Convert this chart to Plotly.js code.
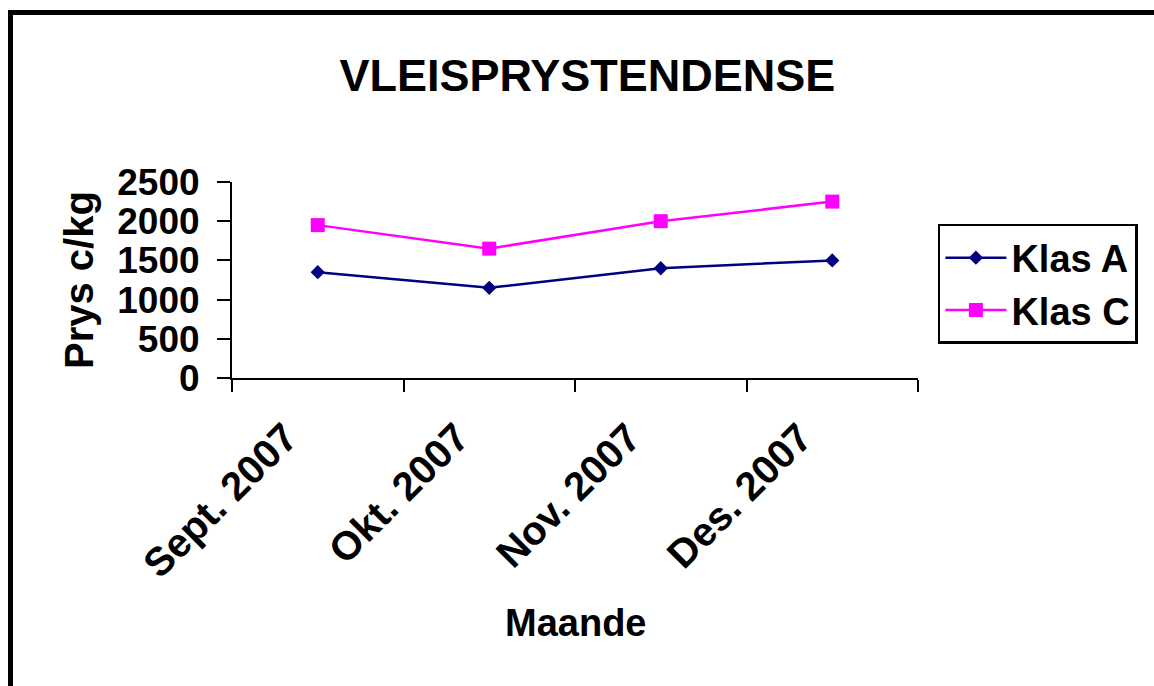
<!DOCTYPE html>
<html>
<head>
<meta charset="utf-8">
<script src="https://cdn.plot.ly/plotly-3.0.1.min.js"></script>
<style>
html,body{margin:0;padding:0;background:#fff;overflow:hidden;}
#wrap{position:relative;width:1154px;height:686px;overflow:hidden;}
#chart{position:absolute;left:0;top:0;width:1154px;height:686px;}
#frame{position:absolute;left:8px;top:10px;width:1200px;height:720px;border:5px solid #000;pointer-events:none;box-sizing:border-box;}
</style>
</head>
<body>
<div id="wrap">
<div id="chart"></div>
<div id="frame"></div>
</div>
<script>
const categories = ["Sept. 2007", "Okt. 2007", "Nov. 2007", "Des. 2007"];
const klasA = [1350, 1150, 1400, 1500];
const klasC = [1950, 1650, 2000, 2250];
const yTicks = [0, 500, 1000, 1500, 2000, 2500];

const font = "Arial, 'Liberation Sans', sans-serif";

const traces = [
  {
    x: categories, y: klasA, name: "Klas A", type: "scatter", mode: "lines+markers",
    line: {color: "#000080", width: 2.5},
    marker: {symbol: "diamond", size: 11, color: "#000080"}
  },
  {
    x: categories, y: klasC, name: "Klas C", type: "scatter", mode: "lines+markers",
    line: {color: "#FF00FF", width: 2.5},
    marker: {symbol: "square", size: 14, color: "#FF00FF"}
  }
];

const layout = {
  width: 1154, height: 686,
  margin: {l: 232, r: 236, t: 182, b: 308},
  paper_bgcolor: "#ffffff", plot_bgcolor: "#ffffff",
  font: {family: font, color: "#000", size: 32, weight: "bold"},
  showlegend: true,
  title: {
    text: "<b>VLEISPRYSTENDENSE</b>",
    font: {family: font, size: 45, color: "#000"},
    x: 0.509, xref: "container", xanchor: "center",
    y: 0.89, yref: "container", yanchor: "middle"
  },
  xaxis: {
    type: "category",
    range: [-0.5, 3.5],
    tickson: "boundaries",
    ticks: "outside", ticklen: 12, tickwidth: 2, tickcolor: "#000",
    showline: true, linecolor: "#000", linewidth: 2,
    showgrid: false, zeroline: false,
    tickangle: -45,
    ticklabelstandoff: 18,
    ticklabelshift: -32,
    tickfont: {family: font, size: 40, color: "#000", weight: "bold"}
  },
  yaxis: {
    range: [0, 2500],
    tickvals: yTicks,
    ticktext: yTicks.map(String),
    ticks: "outside", ticklen: 13, tickwidth: 2, tickcolor: "#000",
    showline: true, linecolor: "#000", linewidth: 2,
    showgrid: false, zeroline: false,
    tickfont: {family: font, size: 37, color: "#000", weight: "bold"},
    ticklabelstandoff: 10
  },
  annotations: [
    {
      text: "<b>Maande</b>", xref: "paper", yref: "paper",
      x: 0.5, y: (378 - 623) / 196, xanchor: "center", yanchor: "middle",
      showarrow: false, font: {family: font, size: 38, color: "#000"}
    },
    {
      text: "<b>Prys c/kg</b>", xref: "paper", yref: "paper", textangle: -90,
      x: (79 - 232) / 686, y: 0.5, xanchor: "center", yanchor: "middle",
      showarrow: false, font: {family: font, size: 40, color: "#000"}
    }
  ],
  legend: {
    x: 1.029, xanchor: "left", y: 0.786, yanchor: "top",
    bordercolor: "#000", borderwidth: 2.5, bgcolor: "#fff",
    font: {family: font, size: 38, color: "#000", weight: "bold"},
    itemwidth: 61
  }
};

Plotly.newPlot("chart", traces, layout, {displayModeBar: false, staticPlot: true});
</script>
</body>
</html>
